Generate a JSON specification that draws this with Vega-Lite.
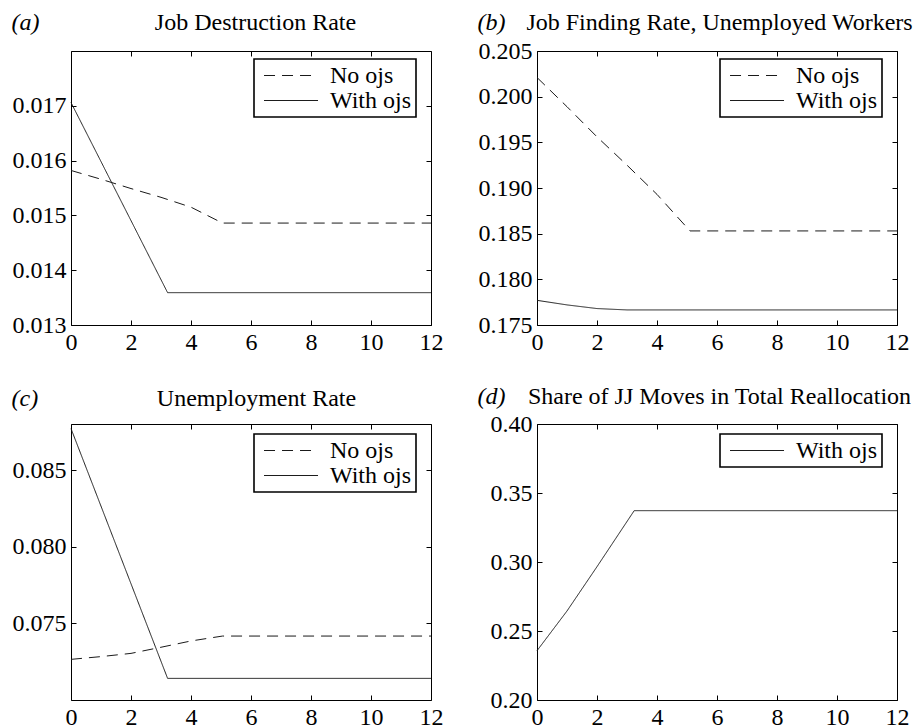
{
  "$schema": "https://vega.github.io/schema/vega-lite/v6.json",
  "background": "white",
  "padding": {"left": 10, "top": 9, "right": 0, "bottom": 0},
  "config": {
    "font": "Liberation Serif",
    "view": {"stroke": "black", "strokeWidth": 1},
    "axis": {
      "labelFont": "Liberation Serif", "labelFontSize": 24, "labelColor": "black",
      "titleFont": "Liberation Serif", "titleFontSize": 24, "titleColor": "black", "titleFontWeight": "normal",
      "tickColor": "black", "tickSize": -5, "labelPadding": 10,
      "domain": false, "grid": false, "labelOverlap": false, "labelBound": false, "labelFlush": false
    },
    "legend": {
      "orient": "none", "legendX": 183, "legendY": 8, "padding": 4,
      "strokeColor": "black", "fillColor": "white", "strokeWidth": 1.6,
      "labelFont": "Liberation Serif", "labelFontSize": 24, "labelColor": "black",
      "labelExpr": "datum.label + '\u00a0'",
      "symbolType": "M-0.54,0H3.96", "symbolSize": 576, "labelOffset": 47,
      "symbolStrokeColor": "#1a1a1a", "symbolStrokeWidth": 1, "symbolFillColor": "transparent",
      "rowPadding": 0
    },
    "line": {"color": "#1a1a1a", "strokeWidth": 1}
  },
  "data": {"values": [
    {"panel": "a", "series": "With ojs", "t": 0, "v": 0.01706},
    {"panel": "a", "series": "With ojs", "t": 3.22, "v": 0.01359},
    {"panel": "a", "series": "With ojs", "t": 12, "v": 0.01359},
    {"panel": "a", "series": "No ojs", "t": 0, "v": 0.01582},
    {"panel": "a", "series": "No ojs", "t": 1, "v": 0.01566},
    {"panel": "a", "series": "No ojs", "t": 2, "v": 0.01549},
    {"panel": "a", "series": "No ojs", "t": 3, "v": 0.01533},
    {"panel": "a", "series": "No ojs", "t": 4, "v": 0.01515},
    {"panel": "a", "series": "No ojs", "t": 5.05, "v": 0.01486},
    {"panel": "a", "series": "No ojs", "t": 12, "v": 0.01486},
    {"panel": "b", "series": "No ojs", "t": 0, "v": 0.2021},
    {"panel": "b", "series": "No ojs", "t": 1, "v": 0.1989},
    {"panel": "b", "series": "No ojs", "t": 2, "v": 0.1956},
    {"panel": "b", "series": "No ojs", "t": 3, "v": 0.1925},
    {"panel": "b", "series": "No ojs", "t": 4, "v": 0.1893},
    {"panel": "b", "series": "No ojs", "t": 5.1, "v": 0.1853},
    {"panel": "b", "series": "No ojs", "t": 12, "v": 0.1853},
    {"panel": "b", "series": "With ojs", "t": 0, "v": 0.1777},
    {"panel": "b", "series": "With ojs", "t": 1, "v": 0.1772},
    {"panel": "b", "series": "With ojs", "t": 2, "v": 0.1768},
    {"panel": "b", "series": "With ojs", "t": 3, "v": 0.17665},
    {"panel": "b", "series": "With ojs", "t": 12, "v": 0.17665},
    {"panel": "c", "series": "With ojs", "t": 0, "v": 0.0877},
    {"panel": "c", "series": "With ojs", "t": 3.22, "v": 0.07141},
    {"panel": "c", "series": "With ojs", "t": 12, "v": 0.07141},
    {"panel": "c", "series": "No ojs", "t": 0, "v": 0.07265},
    {"panel": "c", "series": "No ojs", "t": 1, "v": 0.07283},
    {"panel": "c", "series": "No ojs", "t": 2, "v": 0.07304},
    {"panel": "c", "series": "No ojs", "t": 3, "v": 0.07344},
    {"panel": "c", "series": "No ojs", "t": 4, "v": 0.07385},
    {"panel": "c", "series": "No ojs", "t": 5.05, "v": 0.07417},
    {"panel": "c", "series": "No ojs", "t": 12, "v": 0.07417},
    {"panel": "d", "series": "With ojs", "t": 0, "v": 0.2357},
    {"panel": "d", "series": "With ojs", "t": 1, "v": 0.2645},
    {"panel": "d", "series": "With ojs", "t": 2, "v": 0.2966},
    {"panel": "d", "series": "With ojs", "t": 3.24, "v": 0.3372},
    {"panel": "d", "series": "With ojs", "t": 12, "v": 0.3372}
  ]},
  "spacing": 28,
  "resolve": {"scale": {"strokeDash": "independent"}, "legend": {"strokeDash": "independent"}},
  "vconcat": [
    {
      "spacing": 32,
      "resolve": {"scale": {"strokeDash": "independent"}, "legend": {"strokeDash": "independent"}},
      "hconcat": [
        {
          "width": 360, "height": 274,
          "transform": [{"filter": "datum.panel == 'a'"}],
          "layer": [
            {
              "mark": {"type": "line"},
              "encoding": {
                "x": {"field": "t", "type": "quantitative", "scale": {"domain": [0, 12], "nice": false},
                      "axis": {"orient": "bottom", "values": [0, 2, 4, 6, 8, 10, 12], "title": null}},
                "y": {"field": "v", "type": "quantitative", "scale": {"domain": [0.013, 0.018], "nice": false, "zero": false},
                      "axis": {"orient": "left", "values": [0.013, 0.014, 0.015, 0.016, 0.017], "format": ".3f",
                               "title": "(a)", "titleAngle": 0, "titleAlign": "left", "titleBaseline": "alphabetic",
                               "titleX": -60, "titleY": -22, "titleFontStyle": "italic"}},
                "strokeDash": {"field": "series", "type": "nominal",
                               "scale": {"domain": ["No ojs", "With ojs"], "range": [[11, 7], [1, 0]]},
                               "legend": {"title": null, "legendX": 183, "legendY": 8}}
              }
            },
            {
              "mark": {"type": "line", "opacity": 0},
              "encoding": {
                "x": {"field": "t", "type": "quantitative",
                      "axis": {"orient": "top", "values": [0, 2, 4, 6, 8, 10, 12], "labels": false,
                               "title": "Job Destruction Rate", "titleX": 184, "titleY": -22,
                               "titleAlign": "center", "titleBaseline": "alphabetic"}},
                "y": {"field": "v", "type": "quantitative",
                      "axis": {"orient": "right", "values": [0.013, 0.014, 0.015, 0.016, 0.017], "labels": false, "title": null}},
                "detail": {"field": "series"}
              }
            }
          ],
          "resolve": {"axis": {"x": "independent", "y": "independent"}}
        },
        {
          "width": 360, "height": 274,
          "transform": [{"filter": "datum.panel == 'b'"}],
          "layer": [
            {
              "mark": {"type": "line"},
              "encoding": {
                "x": {"field": "t", "type": "quantitative", "scale": {"domain": [0, 12], "nice": false},
                      "axis": {"orient": "bottom", "values": [0, 2, 4, 6, 8, 10, 12], "title": null}},
                "y": {"field": "v", "type": "quantitative", "scale": {"domain": [0.175, 0.205], "nice": false, "zero": false},
                      "axis": {"orient": "left", "values": [0.175, 0.18, 0.185, 0.19, 0.195, 0.2, 0.205], "format": ".3f",
                               "title": "(b)", "titleAngle": 0, "titleAlign": "left", "titleBaseline": "alphabetic",
                               "titleX": -60, "titleY": -22, "titleFontStyle": "italic"}},
                "strokeDash": {"field": "series", "type": "nominal",
                               "scale": {"domain": ["No ojs", "With ojs"], "range": [[11, 7], [1, 0]]},
                               "legend": {"title": null, "legendX": 183, "legendY": 8}}
              }
            },
            {
              "mark": {"type": "line", "opacity": 0},
              "encoding": {
                "x": {"field": "t", "type": "quantitative",
                      "axis": {"orient": "top", "values": [0, 2, 4, 6, 8, 10, 12], "labels": false,
                               "title": "Job Finding Rate, Unemployed Workers", "titleX": 182, "titleY": -22,
                               "titleAlign": "center", "titleBaseline": "alphabetic"}},
                "y": {"field": "v", "type": "quantitative",
                      "axis": {"orient": "right", "values": [0.175, 0.18, 0.185, 0.19, 0.195, 0.2, 0.205], "labels": false, "title": null}},
                "detail": {"field": "series"}
              }
            }
          ],
          "resolve": {"axis": {"x": "independent", "y": "independent"}}
        }
      ]
    },
    {
      "spacing": 32,
      "resolve": {"scale": {"strokeDash": "independent"}, "legend": {"strokeDash": "independent"}},
      "hconcat": [
        {
          "width": 360, "height": 276,
          "transform": [{"filter": "datum.panel == 'c'"}],
          "layer": [
            {
              "mark": {"type": "line"},
              "encoding": {
                "x": {"field": "t", "type": "quantitative", "scale": {"domain": [0, 12], "nice": false},
                      "axis": {"orient": "bottom", "values": [0, 2, 4, 6, 8, 10, 12], "title": null}},
                "y": {"field": "v", "type": "quantitative", "scale": {"domain": [0.07, 0.088], "nice": false, "zero": false},
                      "axis": {"orient": "left", "values": [0.075, 0.08, 0.085], "format": ".3f",
                               "title": "(c)", "titleAngle": 0, "titleAlign": "left", "titleBaseline": "alphabetic",
                               "titleX": -60, "titleY": -19, "titleFontStyle": "italic"}},
                "strokeDash": {"field": "series", "type": "nominal",
                               "scale": {"domain": ["No ojs", "With ojs"], "range": [[11, 7], [1, 0]]},
                               "legend": {"title": null, "legendX": 183, "legendY": 10}}
              }
            },
            {
              "mark": {"type": "line", "opacity": 0},
              "encoding": {
                "x": {"field": "t", "type": "quantitative",
                      "axis": {"orient": "top", "values": [0, 2, 4, 6, 8, 10, 12], "labels": false,
                               "title": "Unemployment Rate", "titleX": 185, "titleY": -19,
                               "titleAlign": "center", "titleBaseline": "alphabetic"}},
                "y": {"field": "v", "type": "quantitative",
                      "axis": {"orient": "right", "values": [0.075, 0.08, 0.085], "labels": false, "title": null}},
                "detail": {"field": "series"}
              }
            }
          ],
          "resolve": {"axis": {"x": "independent", "y": "independent"}}
        },
        {
          "width": 360, "height": 276,
          "transform": [{"filter": "datum.panel == 'd'"}],
          "layer": [
            {
              "mark": {"type": "line"},
              "encoding": {
                "x": {"field": "t", "type": "quantitative", "scale": {"domain": [0, 12], "nice": false},
                      "axis": {"orient": "bottom", "values": [0, 2, 4, 6, 8, 10, 12], "title": null}},
                "y": {"field": "v", "type": "quantitative", "scale": {"domain": [0.2, 0.4], "nice": false, "zero": false},
                      "axis": {"orient": "left", "values": [0.2, 0.25, 0.3, 0.35, 0.4], "format": ".2f",
                               "title": "(d)", "titleAngle": 0, "titleAlign": "left", "titleBaseline": "alphabetic",
                               "titleX": -60, "titleY": -21, "titleFontStyle": "italic"}},
                "strokeDash": {"field": "series", "type": "nominal",
                               "scale": {"domain": ["With ojs"], "range": [[1, 0]]},
                               "legend": {"title": null, "legendX": 183, "legendY": 10}}
              }
            },
            {
              "mark": {"type": "line", "opacity": 0},
              "encoding": {
                "x": {"field": "t", "type": "quantitative",
                      "axis": {"orient": "top", "values": [0, 2, 4, 6, 8, 10, 12], "labels": false,
                               "title": "Share of JJ Moves in Total Reallocation", "titleX": 182, "titleY": -21,
                               "titleAlign": "center", "titleBaseline": "alphabetic"}},
                "y": {"field": "v", "type": "quantitative",
                      "axis": {"orient": "right", "values": [0.2, 0.25, 0.3, 0.35, 0.4], "labels": false, "title": null}},
                "detail": {"field": "series"}
              }
            }
          ],
          "resolve": {"axis": {"x": "independent", "y": "independent"}}
        }
      ]
    }
  ]
}
